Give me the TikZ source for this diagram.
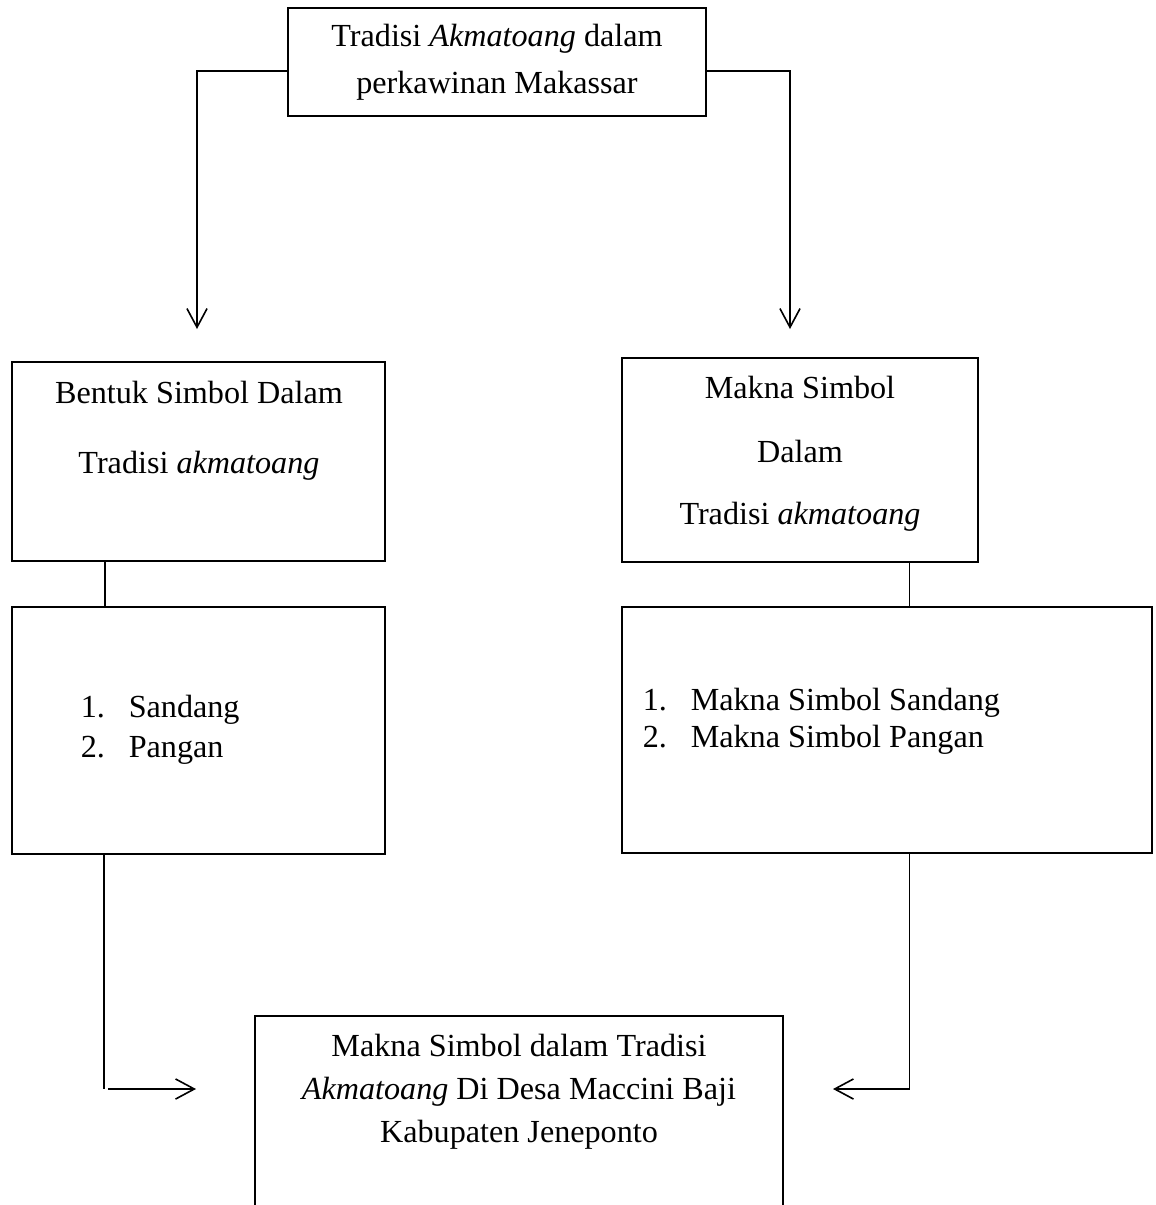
\documentclass[tikz,border=0pt]{standalone}
\usepackage{fontspec}
\setmainfont{Liberation Serif}
\usetikzlibrary{arrows.meta,calc}

\begin{document}
\begin{tikzpicture}[x=0.373pt,y=-0.373pt,line width=0.6pt,
  >={Straight Barb[length=7pt,width=7.5pt]},
  box/.style={draw,inner sep=0pt},
  txt/.style={anchor=base,inner sep=0pt,font=\fontsize{12}{14}\selectfont},
  itm/.style={txt,anchor=base west}]

\newcommand\PX{0.373pt}
\newcommand\numline[2]{\makebox[17.9pt][l]{#1}#2}

  \clip (0,0) rectangle (1156,1205);

  %% boxes
  \node[box,minimum width=418*\PX,minimum height=108*\PX] (top) at (497,62) {};
  \node[box,minimum width=373*\PX,minimum height=199*\PX] (leftA) at (198.5,461.5) {};
  \node[box,minimum width=356*\PX,minimum height=204*\PX] (rightA) at (800,460) {};
  \node[box,minimum width=373*\PX,minimum height=247*\PX] (leftB) at (198.5,730.5) {};
  \node[box,minimum width=530*\PX,minimum height=246*\PX] (rightB) at (887,730) {};
  \node[box,minimum width=528*\PX,minimum height=219*\PX] (bottom) at (519,1125.5) {};

  %% texts
  \node[txt] (top1) at (497,46) {Tradisi \textit{Akmatoang} dalam};
  \node[txt] (top2) at (497,93) {perkawinan Makassar};

  \node[txt] (leftA1) at (199,403) {Bentuk Simbol Dalam};
  \node[txt] (leftA2) at (199,473) {Tradisi \textit{akmatoang}};

  \node[txt] (rightA1) at (800,398) {Makna Simbol};
  \node[txt] (rightA2) at (800,462) {Dalam};
  \node[txt] (rightA3) at (800,524) {Tradisi \textit{akmatoang}};

  \node[itm] (leftB1) at (80,717) {\numline{1.}{Sandang}};
  \node[itm] (leftB2) at (80,757) {\numline{2.}{Pangan}};

  \node[itm] (rightB1) at (642,710) {\numline{1.}{Makna Simbol Sandang}};
  \node[itm] (rightB2) at (642,747) {\numline{2.}{Makna Simbol Pangan}};

  \node[txt] (bottom1) at (519,1056) {Makna Simbol dalam Tradisi};
  \node[txt] (bottom2) at (519,1099) {\textit{Akmatoang} Di Desa Maccini Baji};
  \node[txt] (bottom3) at (519,1142) {Kabupaten Jeneponto};

  %% top to second row
  \coordinate (tipL) at (197,329);
  \coordinate (tipR) at (790,329);
  \draw[->] ([yshift=-3.4pt]top.west) -| (tipL);
  \draw[->] ([yshift=-3.4pt]top.east) -| (tipR);

  %% second row to third row
  \coordinate (linkL) at ($(leftA.south west)!0.25!(leftA.south east)$);
  \coordinate (linkR) at ($(rightA.south west)!0.806!(rightA.south east)$);
  \draw (linkL) -- (linkL |- leftB.north);
  \draw (linkR) -- (linkR |- rightB.north);

  %% third row to bottom
  \coordinate (startL) at ($(leftB.south west)!0.247!(leftB.south east)$);
  \coordinate (startR) at (linkR |- rightB.south);
  \coordinate (tipBL) at (196,1089);
  \coordinate (tipBR) at (833,1089);
  \coordinate (cornerL) at (startL |- tipBL);
  \draw (startL) -- (cornerL);
  \draw[->] ([xshift=1.7pt]cornerL) -- (tipBL);
  \draw[->] (startR) |- (tipBR);

\end{tikzpicture}
\end{document}
